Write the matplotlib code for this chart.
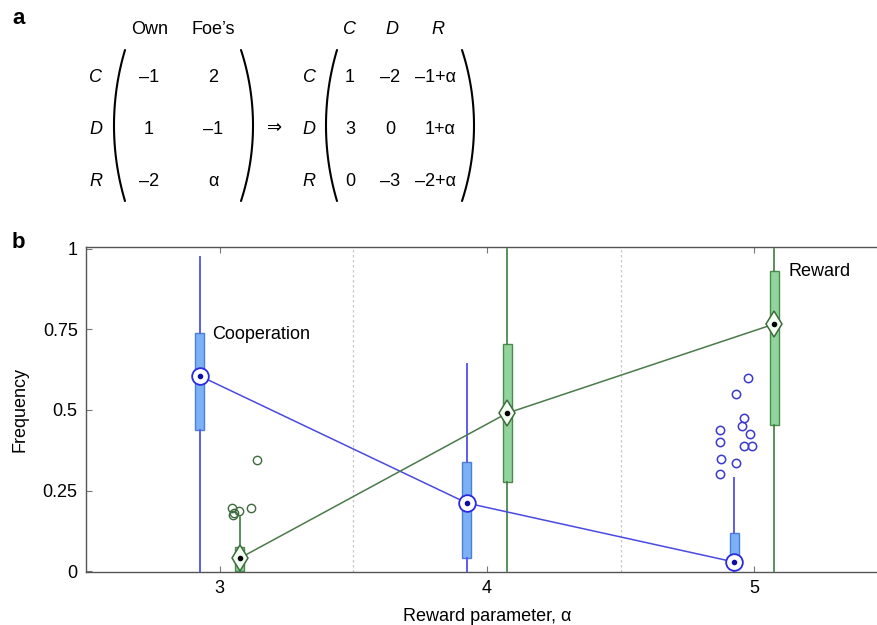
import numpy as np
import matplotlib
matplotlib.use("Agg")
import matplotlib.pyplot as plt

plt.rcParams['font.family'] = ['Liberation Sans', 'DejaVu Sans']
plt.rcParams['font.size'] = 13

# ---- panel a: payoff matrices ----
own_foe_cols = ["Own", "Foe\u2019s"]
row_labels = ["C", "D", "R"]
own_foe = [["\u20131", "2"], ["1", "\u20131"], ["\u20132", "\u03b1"]]
payoff_cols = ["C", "D", "R"]
payoff = [["1", "\u20132", "\u20131+\u03b1"],
          ["3", "0", "1+\u03b1"],
          ["0", "\u20133", "\u20132+\u03b1"]]

# ---- panel b: box plot summaries ----
alphas = [3, 4, 5]
coop_med = [0.606, 0.211, 0.028]
coop_q1 = [0.438, 0.040, 0.005]
coop_q3 = [0.739, 0.339, 0.118]
coop_lo = [0.0, 0.0, 0.0]
coop_hi = [0.975, 0.643, 0.289]
coop_out_x = [4.978, 4.933, 4.963, 4.952, 4.982, 4.870, 4.873, 4.963, 4.993, 4.877, 4.933, 4.870]
coop_out_y = [0.599, 0.550, 0.475, 0.450, 0.425, 0.438, 0.400, 0.388, 0.388, 0.348, 0.334, 0.301]

rew_med = [0.040, 0.490, 0.767]
rew_q1 = [0.0, 0.276, 0.453]
rew_q3 = [0.075, 0.705, 0.932]
rew_lo = [0.0, 0.0, 0.0]
rew_hi = [0.168, 1.0, 1.0]
rew_out_x = [3.047, 3.051, 3.055, 3.074, 3.119, 3.141]
rew_out_y = [0.196, 0.174, 0.180, 0.186, 0.196, 0.345]

offset = 0.075
box_w = 0.034

fig = plt.figure(figsize=(8.77, 6.25), dpi=100)

ax = fig.add_axes([86 / 877, 1 - 572 / 625, 802 / 877, 325 / 625])
ax.set_xlim(2.5, 5.5)
ax.set_ylim(-0.003, 1.006)

for xv in [3.5, 4.5]:
    ax.axvline(xv, color='#c8c8c8', lw=0.9, ls=(0, (2, 2)), zorder=0)


def stats(med, q1, q3, lo, hi):
    return [dict(med=m, q1=a, q3=b, whislo=c, whishi=d, fliers=[])
            for m, a, b, c, d in zip(med, q1, q3, lo, hi)]


blue_x = [a - offset for a in alphas]
green_x = [a + offset for a in alphas]

ax.bxp(stats(coop_med, coop_q1, coop_q3, coop_lo, coop_hi), positions=blue_x,
       widths=box_w, patch_artist=True, showcaps=False, showfliers=False,
       manage_ticks=False,
       boxprops=dict(facecolor='#7db1f5', edgecolor='#4a7fd8', lw=1),
       whiskerprops=dict(color='#5c5cf0', lw=1.4),
       medianprops=dict(color='none'))
ax.bxp(stats(rew_med, rew_q1, rew_q3, rew_lo, rew_hi), positions=green_x,
       widths=box_w, patch_artist=True, showcaps=False, showfliers=False,
       manage_ticks=False,
       boxprops=dict(facecolor='#92d49e', edgecolor='#4b8b4b', lw=1),
       whiskerprops=dict(color='#3f7a3f', lw=1.2),
       medianprops=dict(color='none'))

# outliers
ax.plot(coop_out_x, coop_out_y, 'o', ms=6, mfc='none', mec='#3a3acc', mew=1.1)
ax.plot(rew_out_x, rew_out_y, 'o', ms=6, mfc='none', mec='#3d6b3d', mew=1.0)

# medians joined across alpha
ax.plot(blue_x, coop_med, '-', color='#4a4ae0', lw=1.1, zorder=4)
ax.plot(green_x, rew_med, '-', color='#4a7a4a', lw=1.1, zorder=4)
ax.plot(blue_x, coop_med, 'o', ms=12, mfc='white', mec='#2a2ae0', mew=1.3, zorder=5)
ax.plot(blue_x, coop_med, 'o', ms=3, color='#1010a0', zorder=6)
ax.plot(green_x, rew_med, 'd', ms=13, mfc='#f4fff4', mec='#3d6b3d', mew=1.1, zorder=5)
ax.plot(green_x, rew_med, 'o', ms=3, color='black', zorder=6)

ax.text(2.972, 0.733, "Cooperation", va='center', ha='left')
ax.text(5.128, 0.929, "Reward", va='center', ha='left')

ax.set_xticks(alphas)
ax.set_xticklabels([str(a) for a in alphas])
ax.set_yticks([0, 0.25, 0.5, 0.75, 1])
ax.set_yticklabels(["0", "0.25", "0.5", "0.75", "1"])
ax.tick_params(direction='in', length=4, color='#777777', top=True, right=True,
               pad=6)
for sp in ax.spines.values():
    sp.set_color('#555555')
    sp.set_linewidth(1.0)
ax.set_xlabel("Reward parameter, \u03b1", labelpad=8)
ax.set_ylabel("Frequency", labelpad=10)

# ---- overlay in pixel units for panel labels and matrices ----
ov = fig.add_axes([0, 0, 1, 1])
ov.set_xlim(0, 877)
ov.set_ylim(625, 0)
ov.axis('off')
ov.patch.set_alpha(0)

ov.text(12, 18, "a", fontsize=16, fontweight='bold', va='center')
ov.text(12, 243, "b", fontsize=16, fontweight='bold', va='center')


def paren(x_end, bulge, y0, y1):
    h = (y1 - y0) / 2
    s = abs(bulge)
    R = (h ** 2 + s ** 2) / (2 * s)
    yc = (y0 + y1) / 2
    yy = np.linspace(y0, y1, 80)
    depth = np.sqrt(R ** 2 - (yy - yc) ** 2) - np.sqrt(R ** 2 - h ** 2)
    ov.plot(x_end + np.sign(bulge) * depth, yy, color='black', lw=1.5,
            solid_capstyle='round')


row_y = [77, 129, 181]

# first matrix
for x, t in zip([150, 213], own_foe_cols):
    ov.text(x, 29, t, ha='center', va='center')
for y, lab, vals in zip(row_y, row_labels, own_foe):
    ov.text(96, y, lab, ha='center', va='center', style='italic')
    for x, v in zip([149, 213], vals):
        ov.text(x, y, v, ha='center', va='center')
paren(125, -11, 50, 201)
paren(241, 12, 50, 201)

ov.text(275, 129, "\u21d2", ha='center', va='center', fontsize=13)

# second matrix
for x, t in zip([350, 392, 438], payoff_cols):
    ov.text(x, 29, t, ha='center', va='center', style='italic')
for y, lab, vals in zip(row_y, row_labels, payoff):
    ov.text(309, y, lab, ha='center', va='center', style='italic')
    ov.text(350, y, vals[0], ha='center', va='center')
    ov.text(390, y, vals[1], ha='center', va='center')
    ov.text(456, y, vals[2], ha='right', va='center')
paren(337, -11, 50, 201)
paren(462, 12, 50, 201)

fig.savefig("out.png", dpi=100)
